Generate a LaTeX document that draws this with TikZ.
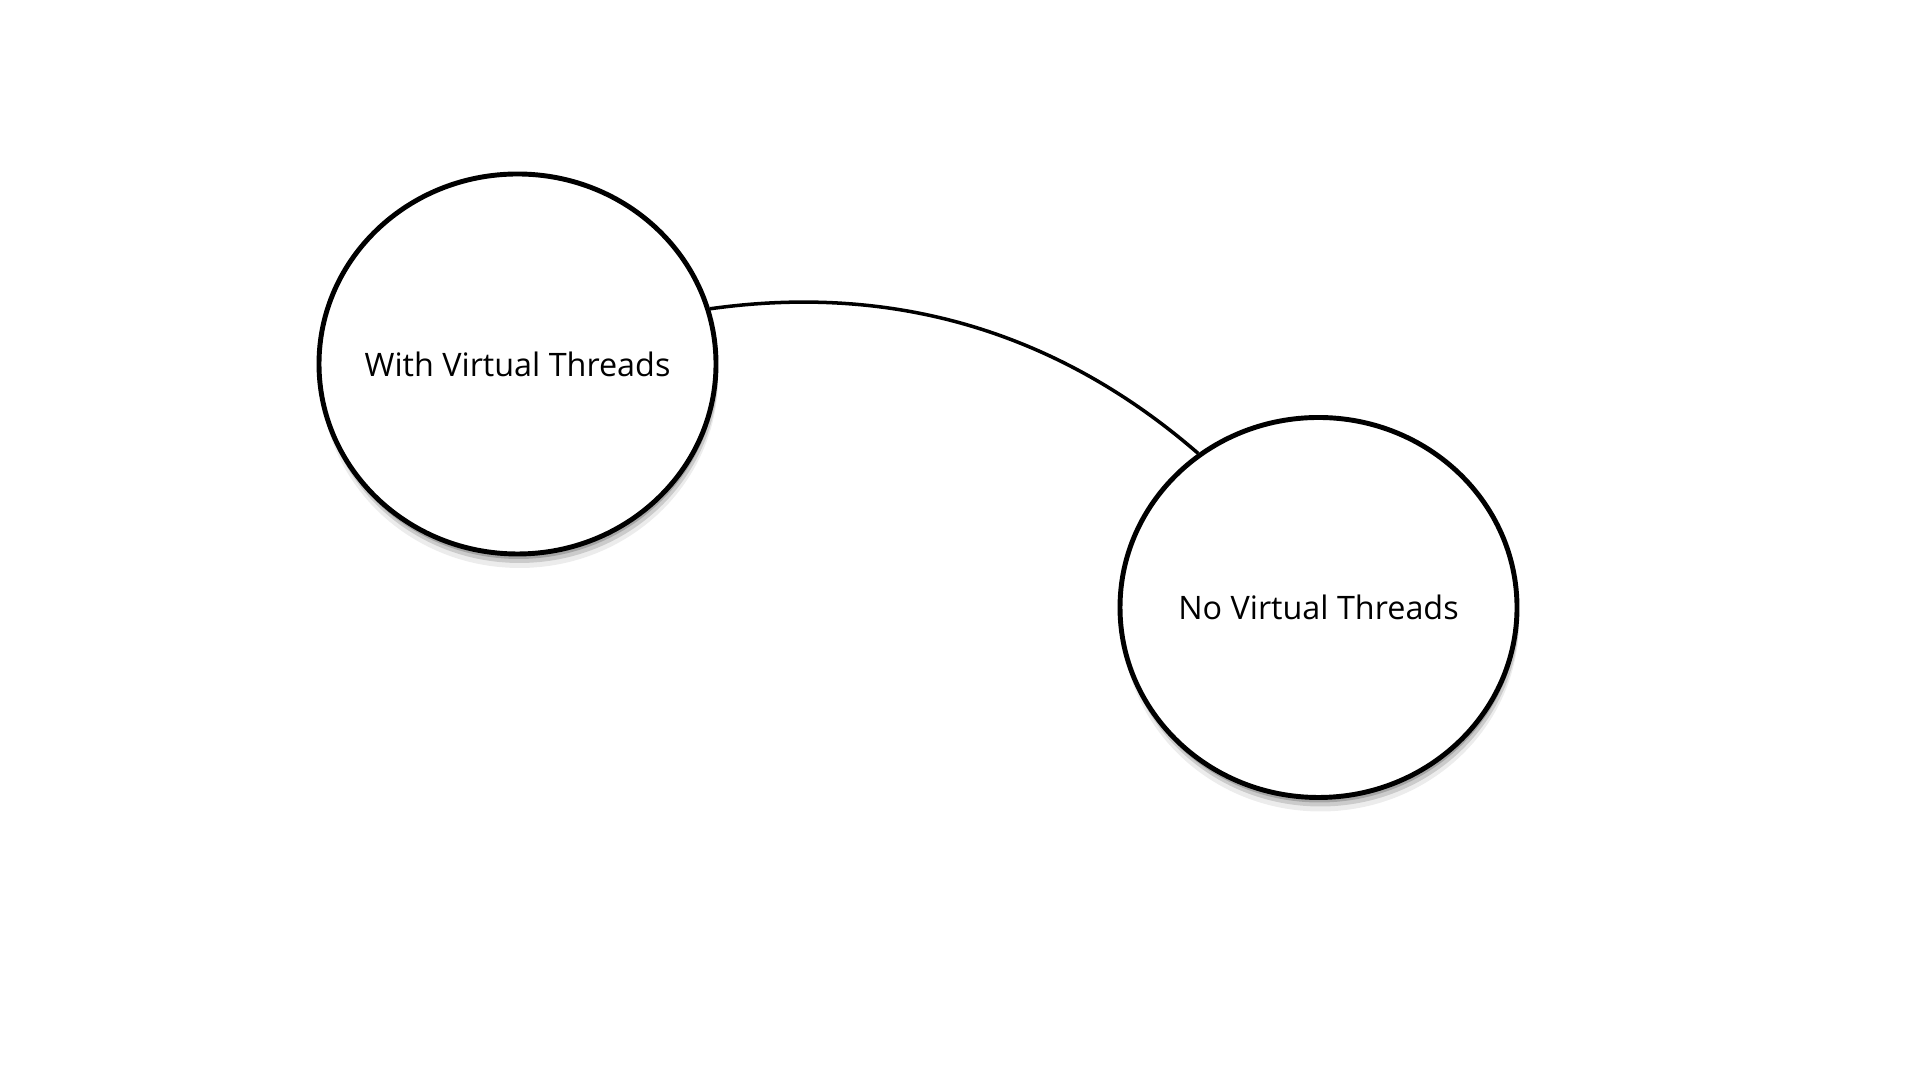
\documentclass[tikz,border=0pt]{standalone}
\usepackage{fontspec}
\setmainfont{Open Sans}
\usepackage{tikz}
\usetikzlibrary{shapes.geometric,shadows}

\begin{document}
\begin{tikzpicture}[
    font=\fontsize{9.2}{11}\selectfont,
    bubble/.style={ellipse, draw, line width=1.4pt, fill=white,
      minimum width=3.97cm, minimum height=3.8cm, inner sep=-0.5cm,
      drop shadow={shadow xshift=0.02cm, shadow yshift=-0.14cm, opacity=0.15},
      drop shadow={shadow xshift=0.02cm, shadow yshift=-0.09cm, opacity=0.3},
      drop shadow={shadow xshift=0.01cm, shadow yshift=-0.05cm, opacity=0.5}},
    link/.style={line width=1pt},
  ]
    \useasboundingbox (0,0) rectangle (19.2,10.8);
    \node[bubble] (wvt) at (5.175,7.16) {With Virtual Threads};
    \node[bubble] (nvt) at (13.185,4.725) {No Virtual Threads};

    \draw[link] (wvt.16) .. controls +(8:2.0) and +(139:1.7) .. (nvt.128);
  \end{tikzpicture}
\end{document}
